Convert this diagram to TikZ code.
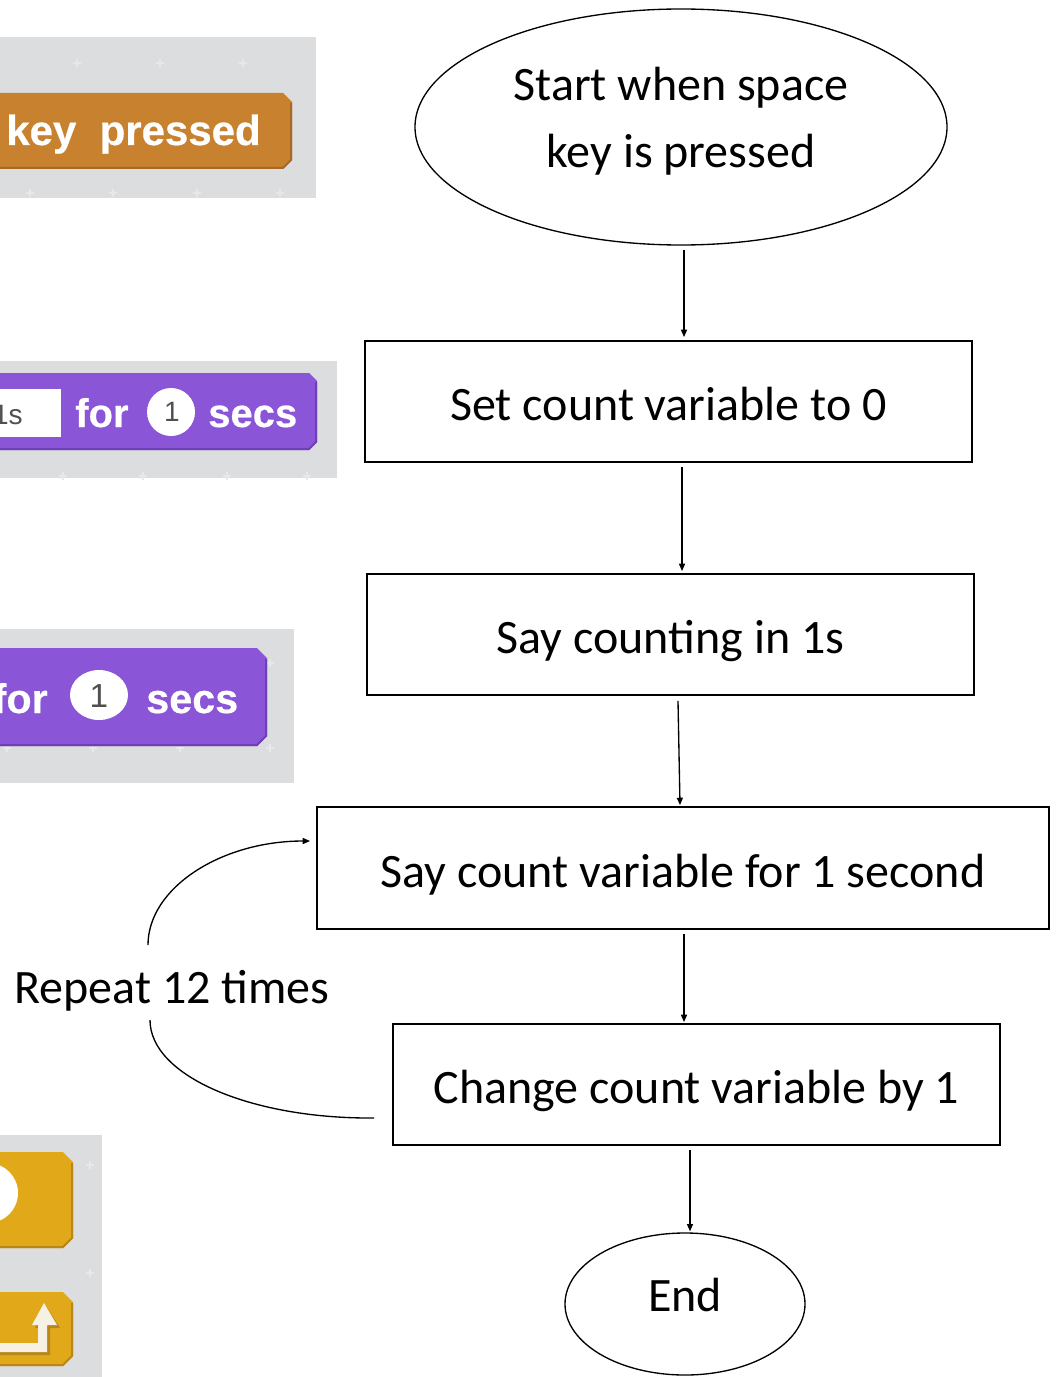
\documentclass[tikz,border=0pt]{standalone}
\usepackage{fontspec}
\setmainfont{Carlito}
\newfontfamily\blockfont[BoldFeatures={FakeBold=0.5}]{Liberation Sans}
\usetikzlibrary{shapes.geometric,arrows.meta,calc}
\definecolor{panelgray}{HTML}{DCDDDE}
\definecolor{plusgray}{HTML}{E7E8E9}
\definecolor{orangeblk}{HTML}{C8822F}
\definecolor{orangedark}{HTML}{A86A22}
\definecolor{purpleblk}{HTML}{8A55D7}
\definecolor{purpledark}{HTML}{6E3FB5}
\definecolor{yellowblk}{HTML}{E1A91A}
\definecolor{yellowdark}{HTML}{B8861A}
\definecolor{cream}{HTML}{F6F1E2}
\definecolor{numgray}{HTML}{505050}
\begin{document}
\begin{tikzpicture}[x=0.75pt,y=-0.75pt,
  flowtext/.style={font=\fontsize{36}{50.25}\selectfont, align=center},
  flowbox/.style={draw, line width=1.4pt, flowtext, minimum width=455.25pt, minimum height=90.75pt, inner sep=0pt, text height=30pt, text depth=1.5pt},
  flowell/.style={draw, ellipse, line width=1pt, flowtext, inner sep=0pt},
  arr/.style={line width=1pt, -{Triangle[length=5.5pt,width=4.5pt]}},
  loopline/.style={line width=1pt},
  plusmark/.style={plusgray, line width=1pt},
  blocktext/.style={text=white, font=\blockfont\bfseries\fontsize{30}{30}\selectfont, inner sep=0pt},
  numtext/.style={text=numgray, font=\blockfont\fontsize{20}{20}\selectfont, inner sep=0pt}
]
\clip (0,0) rectangle (1056,1377);
\fill[white] (0,0) rectangle (1056,1377);

% ---------- Scratch panel 1 ----------
\fill[panelgray] (0,37) rectangle (316,198);
\foreach \px/\py in {77/63,160/63,243/63,30/193,113/193,197/193,280/193}
  \draw[plusmark] (\px-4,\py) -- (\px+4,\py) (\px,\py-4) -- (\px,\py+4);
\fill[orangeblk] (0,93) -- (283,93) -- (292,102) -- (292,160) -- (283,169) -- (0,169) -- cycle;
\draw[orangedark, line width=1.5pt] (0,168) -- (283,168) -- (291,160) -- (291,103);
\node[blocktext, anchor=base west, font=\blockfont\bfseries\fontsize{31.5}{31.5}\selectfont] (t1) at (6,145) {key\ \ pressed};

% ---------- Scratch panel 2 ----------
\fill[panelgray] (0,361) rectangle (337,478);
\foreach \px/\py in {63/476,143/476,227/476,307/476}
  \draw[plusmark] (\px-4,\py) -- (\px+4,\py) (\px,\py-4) -- (\px,\py+4);
\fill[purpleblk] (0,373) -- (309,373) -- (317,381) -- (317,442) -- (309,450) -- (0,450) -- cycle;
\draw[purpledark, line width=1.5pt] (0,449) -- (309,449) -- (316,442) -- (316,382);
\fill[white] (0,389) rectangle (61,437);
\node[numtext, anchor=base east, font=\blockfont\fontsize{21}{21}\selectfont] (t2a) at (23,424) {1s};
\node[blocktext, anchor=base west] (t2b) at (75,427) {for};
\fill[white] (171,412) circle[radius=24];
\node[numtext, font=\blockfont\fontsize{21}{21}\selectfont] (t2c) at (172,412) {1};
\node[blocktext, anchor=base west] (t2d) at (208,427) {secs};

% ---------- Scratch panel 3 ----------
\fill[panelgray] (0,629) rectangle (294,783);
\foreach \px/\py in {7/748,93/748,180/748,270/748,270/663}
  \draw[plusmark] (\px-4,\py) -- (\px+4,\py) (\px,\py-4) -- (\px,\py+4);
\fill[purpleblk] (0,648) -- (257,648) -- (267,658) -- (267,736) -- (257,746) -- (0,746) -- cycle;
\draw[purpledark, line width=1.5pt] (0,745) -- (257,745) -- (266,736) -- (266,659);
\node[blocktext, anchor=base east, font=\blockfont\bfseries\fontsize{31}{31}\selectfont] (t3a) at (48,713) {for};
\fill[white] (99,695) ellipse[x radius=29, y radius=25];
\node[numtext, font=\blockfont\fontsize{25}{25}\selectfont] (t3b) at (99,696) {1};
\node[blocktext, anchor=base west, font=\blockfont\bfseries\fontsize{31}{31}\selectfont] (t3c) at (146,713) {secs};

% ---------- Scratch panel 4 ----------
\fill[panelgray] (0,1135) rectangle (102,1377);
\foreach \px/\py in {90/1165,90/1273}
  \draw[plusmark] (\px-4,\py) -- (\px+4,\py) (\px,\py-4) -- (\px,\py+4);
\fill[yellowblk] (0,1152) -- (63,1152) -- (73,1162) -- (73,1238) -- (63,1248) -- (0,1248) -- cycle;
\draw[yellowdark, line width=1.5pt] (0,1247) -- (63,1247) -- (72,1238) -- (72,1163);
\fill[white] (-12,1193) circle[radius=30];
\fill[yellowblk] (0,1292) -- (63,1292) -- (73,1302) -- (73,1356) -- (63,1366) -- (0,1366) -- cycle;
\draw[yellowdark, line width=1.5pt] (0,1365) -- (63,1365) -- (72,1356) -- (72,1303);
\fill[yellowdark] (0,1346) -- (41,1346) -- (41,1328) -- (35,1328) -- (46,1306) -- (60,1328) -- (50,1328) -- (50,1355) -- (0,1355) -- cycle;
\fill[cream] (0,1343) -- (38,1343) -- (38,1325) -- (32,1325) -- (44,1303) -- (57,1325) -- (47,1325) -- (47,1352) -- (0,1352) -- cycle;

% ---------- Flowchart ----------
\node[flowell, minimum width=399pt, minimum height=177pt] (start) at (681,127) {};
\node[flowtext] (starttxt) at (681,121) {Start when space\\key is pressed};
\node[flowbox] (box1) at (668.5,401.5) {Set count variable to 0};
\node[flowbox] (box2) at (670.5,634.5) {Say counting in 1s};
\node[flowbox, minimum width=549pt, minimum height=91.5pt] (box3) at (683,868) {Say count variable for 1 second};
\node[flowbox] (box4) at (696.5,1084.5) {Change count variable by 1};
\node[flowell, minimum width=180pt, minimum height=106.5pt, text height=20pt, text depth=8.8pt] (end) at (685,1304) {End};

\draw[arr] ($(start.south)+(3,4)$) -- ($(box1.north)+(15.5,-3)$);
\draw[arr] ($(box1.south)+(13.5,4)$) -- ($(box2.north)+(11.5,-2)$);
\draw[arr] ($(box2.south)+(7.5,5)$) -- ($(box3.north)+(-3,-1)$);
\draw[arr] ($(box3.south)+(1,4)$) -- ($(box4.north)+(-12.5,-1)$);
\draw[arr] ($(box4.south)+(-6.5,4)$) -- ($(end.north)+(5,-1)$);

% loop
\coordinate (lpA) at ($(box4.west)+(-18,33.5)$);
\coordinate (lpB) at (150,1020);
\coordinate (lpC) at (148,945);
\coordinate (lpD) at ($(box3.west)+(-6,-27)$);
\draw[loopline] (lpA) .. controls (251,1119) and (150,1076) .. (lpB);
\draw[arr] (lpC) .. controls (148,888) and (221,841) .. (lpD);
\node[flowtext] (rep) at (172,991) {Repeat 12 times};
\end{tikzpicture}
\end{document}
